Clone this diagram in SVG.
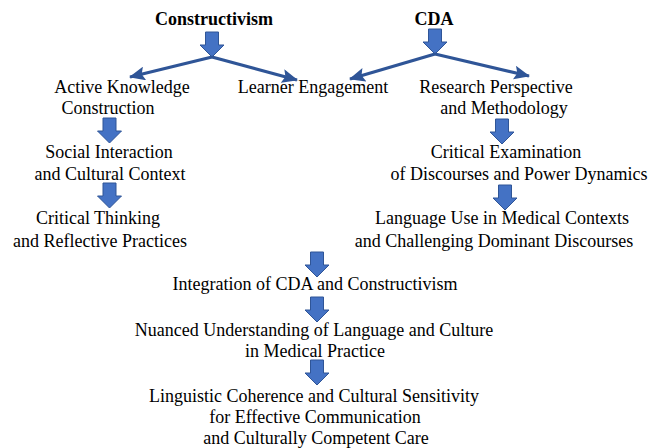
<svg xmlns="http://www.w3.org/2000/svg" width="653" height="448" viewBox="0 0 653 448">
<defs>
<style>
text{font-size:18px;fill:#000;text-anchor:middle}
.b{font-weight:bold}
.blk{fill:#4472C4;stroke:#2F5597;stroke-width:1}
.ln{stroke:#2F5597;stroke-width:3.2;fill:none}
</style>
<marker id="ah" markerUnits="userSpaceOnUse" markerWidth="16" markerHeight="14" viewBox="0 0 16 14" refX="15" refY="7" orient="auto">
<path d="M0,0 L16,7 L0,14 L3,7 Z" fill="#2F5597"/>
</marker>
<path id="ba" d="M-6.5,0 H6.5 V13 H12 L0,25 L-12,13 H-6.5 Z"/>
</defs>
<rect width="653" height="448" fill="#fff"/>
<g id="connectors">
<use href="#ba" class="blk" transform="translate(212,32)"/>
<use href="#ba" class="blk" transform="translate(435,29)"/>
<path class="ln" d="M212,57 L130,77" marker-end="url(#ah)"/>
<path class="ln" d="M212,57 L297,80" marker-end="url(#ah)"/>
<path class="ln" d="M435,54 L350,79" marker-end="url(#ah)"/>
<path class="ln" d="M435,54 L529,76" marker-end="url(#ah)"/>
<use href="#ba" class="blk" transform="translate(109.5,118)"/>
<use href="#ba" class="blk" transform="translate(109.5,183)"/>
<use href="#ba" class="blk" transform="translate(502,119)"/>
<use href="#ba" class="blk" transform="translate(505,185)"/>
<use href="#ba" class="blk" transform="translate(317,252)"/>
<use href="#ba" class="blk" transform="translate(317,297)"/>
<use href="#ba" class="blk" transform="translate(317,360)"/>
</g>
<g font-family="Liberation Serif, Times New Roman, DejaVu Serif, serif">
<g id="constructivism"><text class="b" x="214" y="25">Constructivism</text></g>
<g id="cda"><text class="b" x="434" y="25">CDA</text></g>
<g id="active"><text x="122" y="93">Active Knowledge</text><text x="108" y="114">Construction</text></g>
<g id="learner"><text x="313" y="93">Learner Engagement</text></g>
<g id="research"><text x="496" y="93">Research Perspective</text><text x="504" y="114">and Methodology</text></g>
<g id="social"><text x="109" y="158">Social Interaction</text><text x="110" y="180">and Cultural Context</text></g>
<g id="critical-thinking"><text x="98" y="224">Critical Thinking</text><text x="100" y="247">and Reflective Practices</text></g>
<g id="critical-exam"><text x="506" y="158">Critical Examination</text><text x="519" y="180">of Discourses and Power Dynamics</text></g>
<g id="language-use"><text x="502" y="224">Language Use in Medical Contexts</text><text x="494" y="247">and Challenging Dominant Discourses</text></g>
<g id="integration"><text x="315" y="290">Integration of CDA and Constructivism</text></g>
<g id="nuanced"><text x="314" y="336">Nuanced Understanding of Language and Culture</text><text x="315" y="357">in Medical Practice</text></g>
<g id="linguistic"><text x="314" y="402">Linguistic Coherence and Cultural Sensitivity</text><text x="315" y="423">for Effective Communication</text><text x="316" y="444">and Culturally Competent Care</text></g>
</g>
</svg>
